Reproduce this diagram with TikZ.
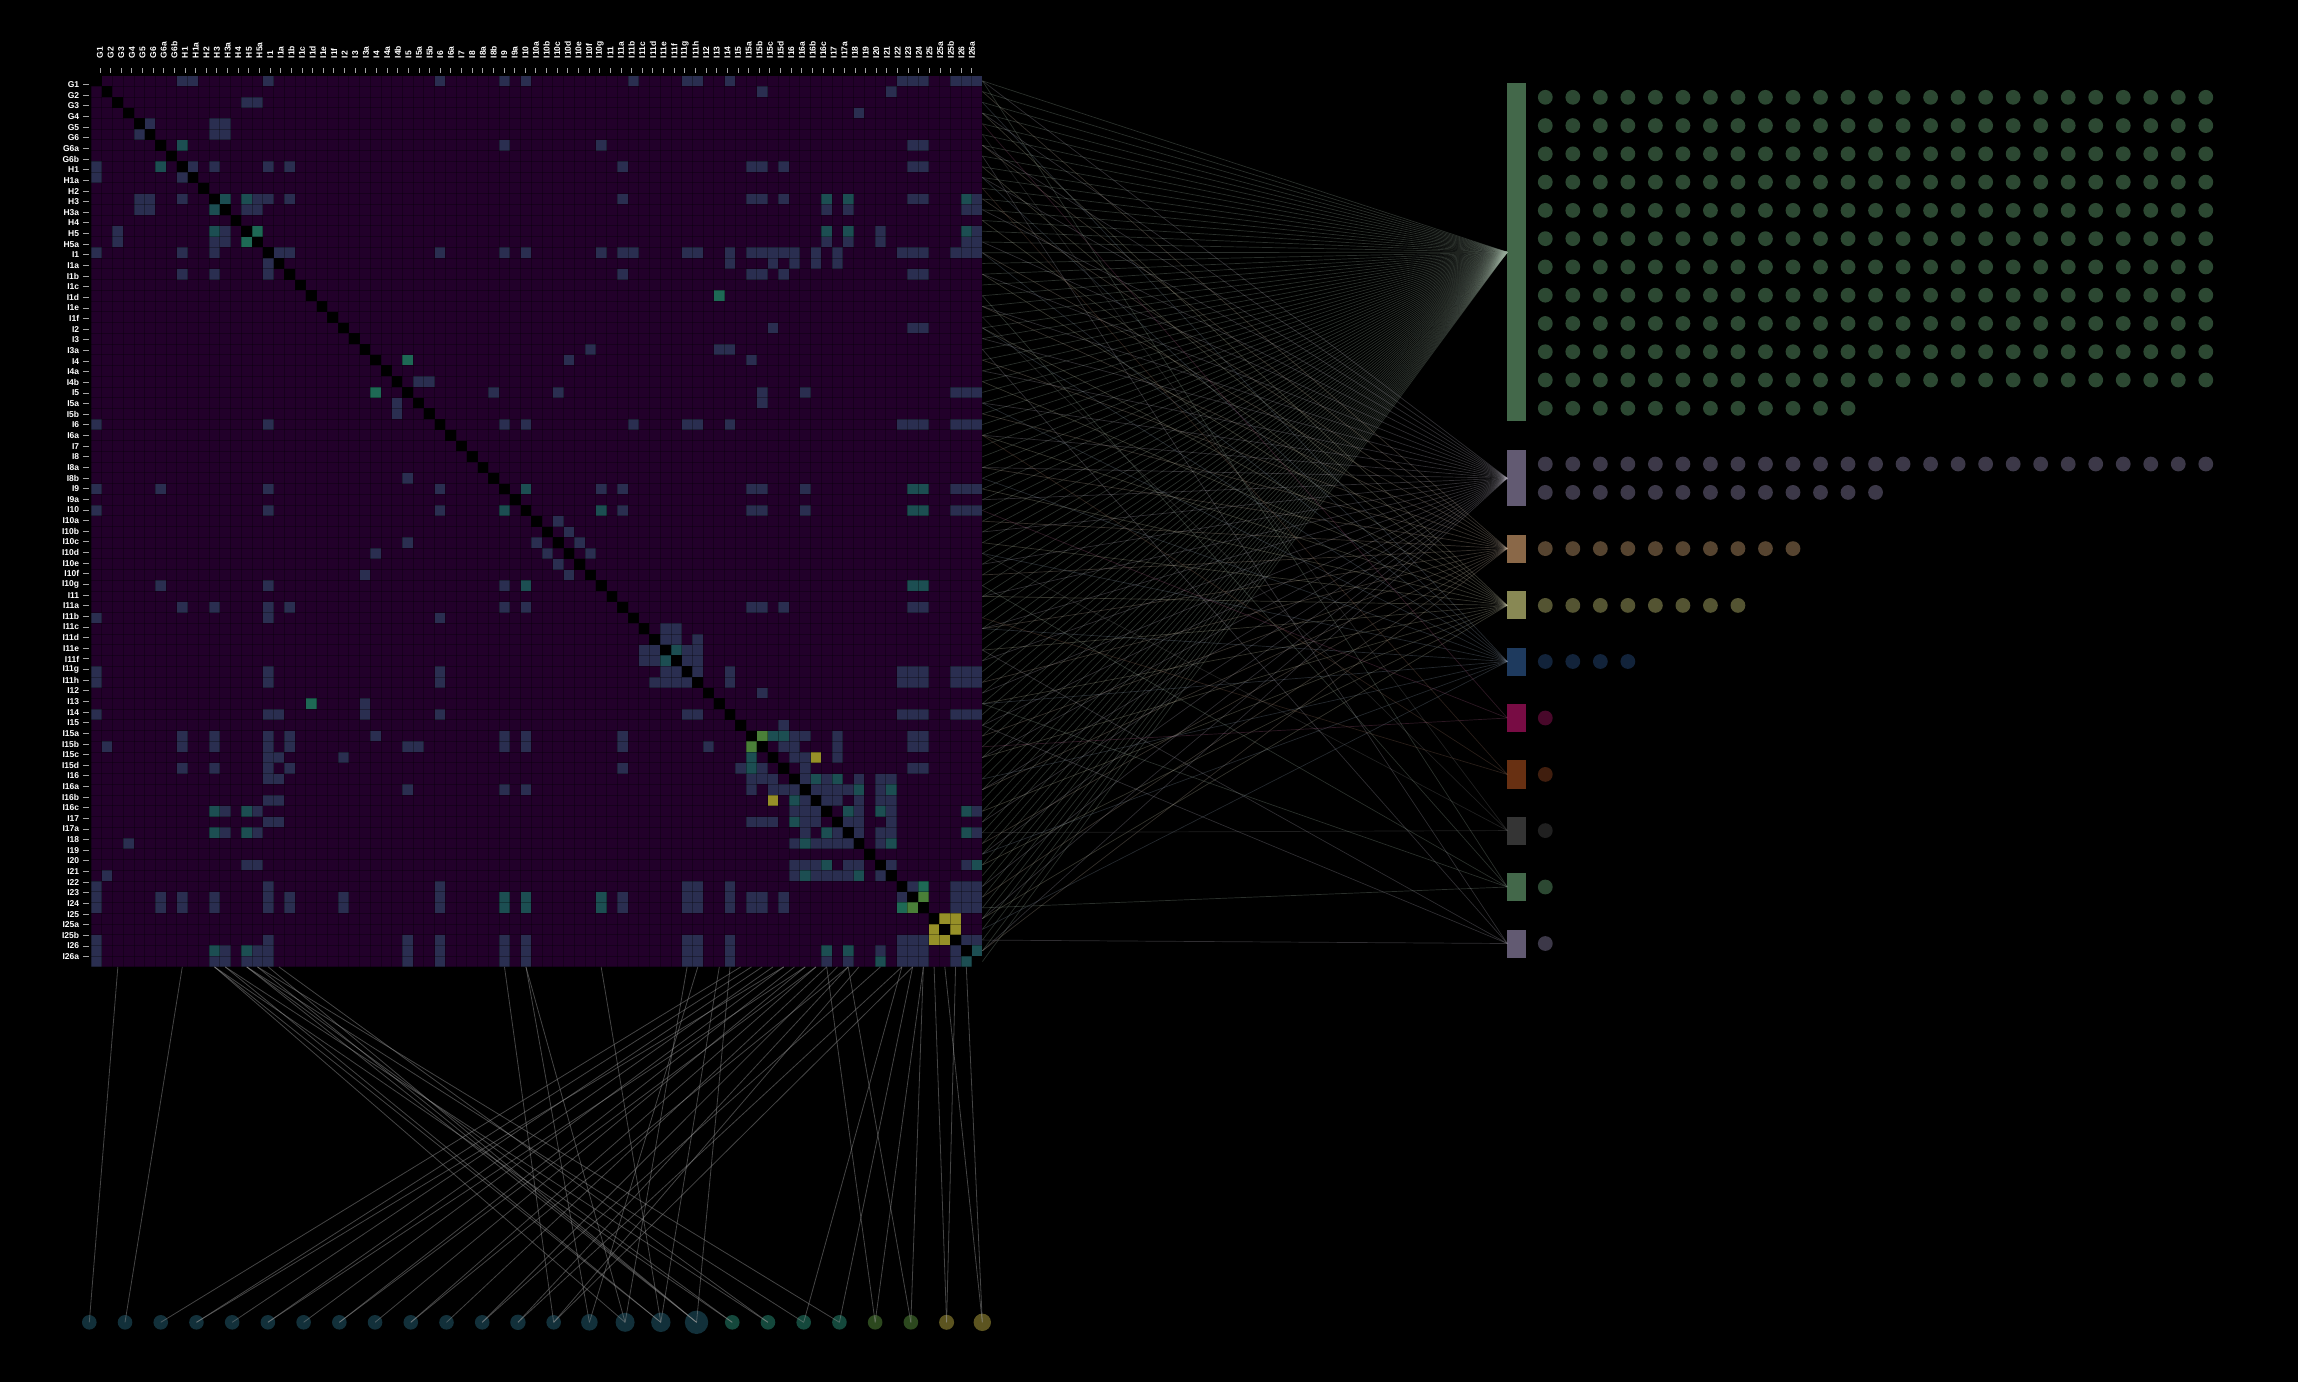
\documentclass[tikz,border=0pt]{standalone}
\usepackage{fontspec}
\setmainfont{Liberation Sans}
\definecolor{mbg}{RGB}{34,0,42}
\definecolor{cella}{RGB}{42,46,80}
\definecolor{cellb}{RGB}{28,78,82}
\definecolor{cellc}{RGB}{30,105,85}
\definecolor{celld}{RGB}{74,128,56}
\definecolor{celle}{RGB}{150,144,40}
\definecolor{barA}{RGB}{67,104,74}\definecolor{dotA}{RGB}{44,72,50}
\definecolor{barB}{RGB}{98,90,114}\definecolor{dotB}{RGB}{60,56,72}
\definecolor{barC}{RGB}{138,104,72}\definecolor{dotC}{RGB}{86,68,48}
\definecolor{barD}{RGB}{136,136,84}\definecolor{dotD}{RGB}{84,84,50}
\definecolor{barE}{RGB}{30,58,94}\definecolor{dotE}{RGB}{18,35,58}
\definecolor{barF}{RGB}{120,12,68}\definecolor{dotF}{RGB}{72,8,42}
\definecolor{barG}{RGB}{104,48,18}\definecolor{dotG}{RGB}{64,30,14}
\definecolor{barH}{RGB}{52,52,52}\definecolor{dotH}{RGB}{32,32,32}
\definecolor{btA}{RGB}{18,48,58}
\definecolor{btB}{RGB}{20,72,60}
\definecolor{btC}{RGB}{44,72,30}
\definecolor{btD}{RGB}{92,84,32}
\begin{document}
\begin{tikzpicture}[x=0.5pt,y=-0.5pt,
  lab/.style={inner sep=0pt,text=white,font=\fontsize{4.25}{4.5}\selectfont\bfseries},
  rowlab/.style={lab,anchor=east},
  collab/.style={lab,anchor=west,rotate=90},
  tickmark/.style={draw=gray!70,line width=0.5pt},
  gridline/.style={draw=black,opacity=0.3,line width=0.45pt},
  lnk/.style={line width=0.35pt,opacity=0.28},
  blink/.style={draw=gray!80,line width=0.4pt,opacity=0.45},
  dotstyle/.style={radius=3.7pt},
]
\fill[black] (0,0) rectangle (2298,1382);
\useasboundingbox (0,0) rectangle (2298,1382);
% matrix
\fill[mbg] (91,75.5) rectangle (982.4,966.9);
\foreach \r/\c/\k in {0/8/a,0/9/a,0/16/a,0/32/a,0/38/a,0/40/a,0/50/a,0/55/a,0/56/a,0/59/a,0/75/a,0/76/a,0/77/a,0/80/a,0/81/a,0/82/a,
1/62/a,1/74/a,2/14/a,2/15/a,3/71/a,4/5/a,4/11/a,4/12/a,5/11/a,5/12/a,
6/8/b,6/38/a,6/47/a,6/76/a,6/77/a,
8/49/a,11/49/a,16/49/a,18/49/a,16/50/a,32/50/a,16/55/a,32/55/a,16/56/a,32/56/a,20/58/c,25/58/a,16/59/a,17/59/a,25/59/a,32/59/a,
8/61/a,11/61/a,16/61/a,18/61/a,26/61/a,8/62/a,11/62/a,16/62/a,18/62/a,29/62/a,30/62/a,16/63/a,17/63/a,23/63/a,
8/64/a,11/64/a,16/64/a,18/64/a,16/65/a,17/65/a,29/66/a,16/67/a,17/67/a,11/68/b,12/68/a,14/68/b,15/68/a,16/69/a,17/69/a,11/70/b,12/70/a,14/70/b,15/70/a,
56/59/a,56/75/a,56/76/a,56/77/a,56/80/a,56/81/a,56/82/a,57/62/a,
59/75/a,59/76/a,59/77/a,59/80/a,59/81/a,59/82/a,60/64/a,
61/62/d,61/63/b,61/64/b,61/65/a,61/66/a,61/69/a,61/76/a,61/77/a,
62/64/a,62/65/a,62/69/a,62/76/a,62/77/a,
63/65/a,63/66/a,63/67/e,63/69/a,64/66/a,64/76/a,64/77/a,
65/66/a,65/67/b,65/68/a,65/69/b,65/71/a,65/73/a,65/74/a,
66/67/a,66/68/a,66/69/a,66/70/a,66/71/b,66/73/a,66/74/b,
67/68/a,67/69/a,67/71/a,67/73/a,67/74/a,
68/70/b,68/71/a,68/73/b,68/74/a,68/81/b,68/82/a,
69/70/a,69/71/a,69/74/a,70/71/a,70/73/a,70/74/a,70/81/b,70/82/a,
71/73/a,71/74/b,73/74/a,73/81/a,73/82/b,
75/76/a,75/77/c,75/80/a,75/81/a,75/82/a,76/77/d,76/80/a,76/81/a,76/82/a,
77/80/a,77/81/a,77/82/a,78/79/e,78/80/e,79/80/e,80/81/a,80/82/a,81/82/b,
8/11/a,8/16/a,8/18/a,11/16/a,11/18/a,16/18/a,49/61/a,49/62/a,49/64/a,8/76/a,8/77/a,11/76/a,11/77/a,18/76/a,18/77/a,49/76/a,49/77/a,
16/32/a,16/75/a,16/76/a,16/77/a,16/80/a,16/81/a,16/82/a,32/75/a,32/76/a,32/77/a,32/80/a,32/81/a,32/82/a,
55/56/a,55/59/a,55/75/a,55/76/a,55/77/a,55/80/a,55/81/a,55/82/a,
11/12/b,11/14/b,11/15/a,12/14/a,12/15/a,14/15/c,11/81/b,11/82/a,12/81/a,12/82/a,14/81/b,14/82/a,15/81/a,15/82/a,
16/38/a,16/40/a,16/47/a,32/38/a,32/40/a,38/40/b,38/47/a,40/47/b,38/76/b,38/77/b,40/76/b,40/77/b,47/76/b,47/77/b,
38/80/a,38/81/a,38/82/a,40/80/a,40/81/a,40/82/a,38/49/a,40/49/a,38/61/a,38/62/a,40/61/a,40/62/a,38/66/a,40/66/a,
16/17/a,8/9/a,23/76/a,23/77/a,29/80/a,29/81/a,29/82/a,26/29/c,25/46/a,26/44/a,29/43/a,29/37/a,28/30/a,28/31/a,
41/43/a,42/44/a,43/45/a,44/46/a,51/53/a,51/54/a,52/53/a,52/54/a,53/54/b,53/55/a,54/55/a,54/56/a,53/56/a,52/56/a,14/73/a,15/73/a}{
  \fill[cell\k] ({91+\c*10.74},{75.5+\r*10.74}) rectangle ++(10.74,10.74);
  \fill[cell\k] ({91+\r*10.74},{75.5+\c*10.74}) rectangle ++(10.74,10.74);
}
\foreach \i in {0,...,83}{
  \draw[gridline] ({91+\i*10.74},75.5) -- ++(0,891.4);
  \draw[gridline] (91,{75.5+\i*10.74}) -- ++(891.4,0);
}
\foreach \i in {0,...,82}
  \fill[black] ({91+\i*10.74},{75.5+\i*10.74}) rectangle ++(10.74,10.74);
% labels
\foreach \n [count=\i from 0] in {G1,G2,G3,G4,G5,G6,G6a,G6b,H1,H1a,H2,H3,H3a,H4,H5,H5a,I1,I1a,I1b,I1c,I1d,I1e,I1f,I2,I3,I3a,I4,I4a,I4b,I5,I5a,I5b,I6,I6a,I7,I8,I8a,I8b,I9,I9a,I10,I10a,I10b,I10c,I10d,I10e,I10f,I10g,I11,I11a,I11b,I11c,I11d,I11e,I11f,I11g,I11h,I12,I13,I14,I15,I15a,I15b,I15c,I15d,I16,I16a,I16b,I16c,I17,I17a,I18,I19,I20,I21,I22,I23,I24,I25,I25a,I25b,I26,I26a}{
  \node[rowlab] (row\i) at (79.5,{84.7+\i*10.634}) {\n};
  \draw[tickmark] (83.3,{84.7+\i*10.634}) -- (89,{84.7+\i*10.634});
  \node[collab] (col\i) at ({100+\i*10.634},58.5) {\n};
  \draw[tickmark] ({100+\i*10.634},68.3) -- ++(0,5);
  \coordinate (re\i) at (982.4,{75.5+(\i+0.5)*10.74});
  \coordinate (be\i) at ({91+(\i+0.5)*10.74},966.9);
}
% right panel bars
\foreach \g/\t/\b/\cl in {1/83.3/421/barA,2/450/506.4/barB,3/534.5/562.6/barC,4/591.3/619.4/barD,5/647.5/675.5/barE,6/704/732/barF,7/760.4/788.5/barG,8/816.5/844.6/barH,9/873/901/barA,10/929.5/957.5/barB}{
  \fill[\cl] (1507.3,\t) rectangle (1525.9,\b);
  \coordinate (bar\g) at (1507.3,{(\t+\b)/2});
}
% links to bars
\foreach \i in {0,...,82} \draw[lnk,draw=barA!55!white] (re\i) -- (bar1);
\foreach \i in {0,3,...,82} \draw[lnk,draw=barB!55!white] (re\i) -- (bar2);
\foreach \i in {1,6,...,82} \draw[lnk,draw=barC!55!white] (re\i) -- (bar3);
\foreach \i in {3,8,...,82} \draw[lnk,draw=barD!55!white] (re\i) -- (bar4);
\foreach \i in {2,9,...,82} \draw[lnk,draw=barE!55!white] (re\i) -- (bar5);
\foreach \i in {4,40,62} \draw[lnk,draw=barF!70!white] (re\i) -- (bar6);
\foreach \i in {10,33,50} \draw[lnk,draw=barG!70!white] (re\i) -- (bar7);
\foreach \i in {5,22,44,70} \draw[lnk,draw=barH!70!white] (re\i) -- (bar8);
\foreach \i in {0,20,47,58,77} \draw[lnk,draw=barA!55!white] (re\i) -- (bar9);
\foreach \i in {7,25,53,60,80} \draw[lnk,draw=barB!55!white] (re\i) -- (bar10);
% dots
\foreach \rr in {0,...,10}{\foreach \cc in {0,...,24}{\fill[dotA] ({1545.3+27.52*\cc},{97.3+28.27*\rr}) circle[dotstyle];}}
\foreach \cc in {0,...,11}{\fill[dotA] ({1545.3+27.52*\cc},408.3) circle[dotstyle];}
\foreach \cc in {0,...,24}{\fill[dotB] ({1545.3+27.52*\cc},464) circle[dotstyle];}
\foreach \cc in {0,...,12}{\fill[dotB] ({1545.3+27.52*\cc},492.4) circle[dotstyle];}
\foreach \cc in {0,...,9}{\fill[dotC] ({1545.3+27.52*\cc},548.6) circle[dotstyle];}
\foreach \cc in {0,...,7}{\fill[dotD] ({1545.3+27.52*\cc},605.4) circle[dotstyle];}
\foreach \cc in {0,...,3}{\fill[dotE] ({1545.3+27.52*\cc},661.5) circle[dotstyle];}
\fill[dotF] (1545.3,718) circle[dotstyle];
\fill[dotG] (1545.3,774.4) circle[dotstyle];
\fill[dotH] (1545.3,830.6) circle[dotstyle];
\fill[dotA] (1545.3,887) circle[dotstyle];
\fill[dotB] (1545.3,943.5) circle[dotstyle];
% bottom circles
\foreach \j/\rad/\cl in {0/7.3/btA,1/7.3/btA,2/7.3/btA,3/7.3/btA,4/7.3/btA,5/7.3/btA,6/7.3/btA,7/7.3/btA,8/7.3/btA,9/7.3/btA,10/7.3/btA,11/7.3/btA,12/7.7/btA,13/7.3/btA,14/8.3/btA,15/9.5/btA,16/9.7/btA,17/11.7/btA,18/7.3/btB,19/7.3/btB,20/7.3/btB,21/7.3/btB,22/7.3/btC,23/7.3/btC,24/7.5/btD,25/8.7/btD}{
  \fill[\cl] ({89.3+35.72*\j},1322.3) circle[radius={\rad*0.5pt}];
  \coordinate (bc\j) at ({89.3+35.72*\j},1322.3);
}
\foreach \j/\c in {0/2,1/8,2/60,3/61,4/62,5/63,6/64,7/65,8/66,9/67,10/68,11/69,12/70,13/71,3/64,5/66,7/67,9/70,11/73,
13/38,14/40,15/40,16/47,15/11,16/12,17/14,17/15,18/11,19/12,20/14,21/15,17/16,19/17,16/11,18/14,
17/59,16/58,14/56,15/55,20/75,21/76,22/77,23/77,24/78,25/79,24/80,25/81,12/75,13/76,22/68,23/70}
  \draw[blink] (bc\j) -- (be\c);
\end{tikzpicture}
\end{document}
